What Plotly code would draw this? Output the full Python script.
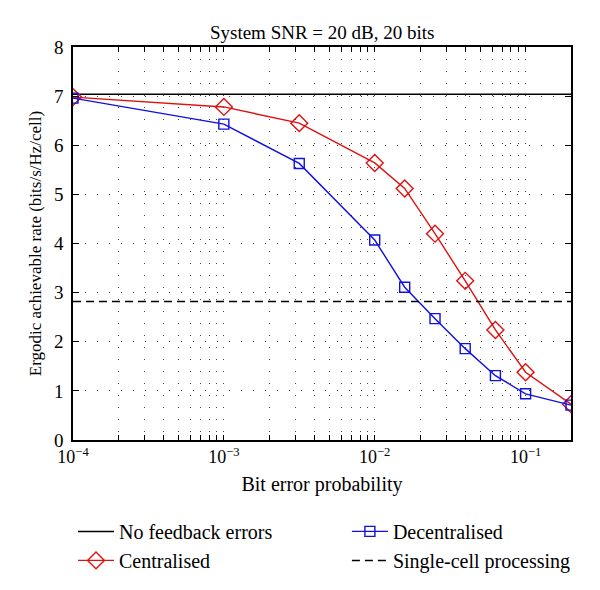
import math
import plotly.graph_objects as go

ber = [1e-4, 1e-3, 0.00316, 1e-2, 0.0158, 0.0251, 0.0398, 0.0631, 0.1, 0.2]
centralised = [6.98, 6.78, 6.45, 5.64, 5.12, 4.20, 3.24, 2.24, 1.38, 0.73]
decentralised = [6.96, 6.43, 5.63, 4.07, 3.11, 2.47, 1.86, 1.31, 0.94, 0.71]
no_feedback_errors = 7.04
single_cell = 2.82
x_range = [1e-4, 0.2]

FONT = "Liberation Serif"
RED = "#e01010"
BLUE = "#1010e0"

fig = go.Figure()
fig.add_trace(go.Scatter(x=x_range, y=[no_feedback_errors] * 2, mode="lines",
                         line=dict(color="black", width=1.5), name="No feedback errors",
                         legend="legend"))
fig.add_trace(go.Scatter(x=ber, y=centralised, mode="lines+markers",
                         line=dict(color=RED, width=1.4),
                         marker=dict(symbol="diamond-open", size=13, color=RED, line=dict(width=1.4)),
                         name="Centralised", legend="legend"))
fig.add_trace(go.Scatter(x=ber, y=decentralised, mode="lines+markers",
                         line=dict(color=BLUE, width=1.4),
                         marker=dict(symbol="square-open", size=10, color=BLUE, line=dict(width=1.4)),
                         name="Decentralised", legend="legend2"))
fig.add_trace(go.Scatter(x=x_range, y=[single_cell] * 2, mode="lines",
                         line=dict(color="black", width=1.5, dash="8px,5px"),
                         name="Single-cell processing", legend="legend2"))

tickvals = []
ticktext = []
for e in range(-4, 0):
    for m in range(1, 10):
        v = m * 10 ** e
        if v > 0.2 + 1e-9:
            break
        tickvals.append(v)
        ticktext.append(f"10<sup>\u2212{-e}</sup>" if m == 1 else "")

grid_style = dict(showgrid=True, gridcolor="#404040", gridwidth=1, griddash="1px,11px")

legend_common = dict(orientation="v", yanchor="top", xanchor="left", y=-0.183,
                     itemwidth=36, traceorder="normal", font=dict(size=20),
                     bgcolor="rgba(0,0,0,0)", tracegroupgap=0)

fig.update_layout(
    width=600, height=590,
    margin=dict(l=73, r=29, t=47, b=150, autoexpand=False),
    paper_bgcolor="white", plot_bgcolor="white",
    font=dict(family=FONT, size=18, color="black"),
    title=dict(text="System SNR = 20 dB, 20 bits", x=0.537, xanchor="center",
               y=1 - 32 / 590, yanchor="middle", font=dict(size=19)),
    xaxis=dict(type="log", range=[-4, math.log10(0.2)], tickvals=tickvals, ticktext=ticktext,
               ticks="inside", ticklen=5, tickcolor="black", tickfont=dict(size=18),
               showline=True, linecolor="black", linewidth=1.5, mirror="ticks",
               title=dict(text="Bit error probability", standoff=11, font=dict(size=20)),
               zeroline=False, automargin=False, **grid_style),
    yaxis=dict(range=[0, 8], dtick=1, ticks="inside", ticklen=6, tickcolor="black",
               tickfont=dict(size=19), ticklabelstandoff=4,
               showline=True, linecolor="black", linewidth=1.5, mirror="ticks",
               title=dict(text="Ergodic achievable rate (bits/s/Hz/cell)", standoff=8, font=dict(size=17)),
               zeroline=False, automargin=False, **grid_style),
    legend=dict(x=0.0, **legend_common),
    legend2=dict(x=0.55, **legend_common),
    showlegend=True,
)

fig.write_html("out.html", config={"displayModeBar": False},
               post_script="document.body.style.margin='0px';")
